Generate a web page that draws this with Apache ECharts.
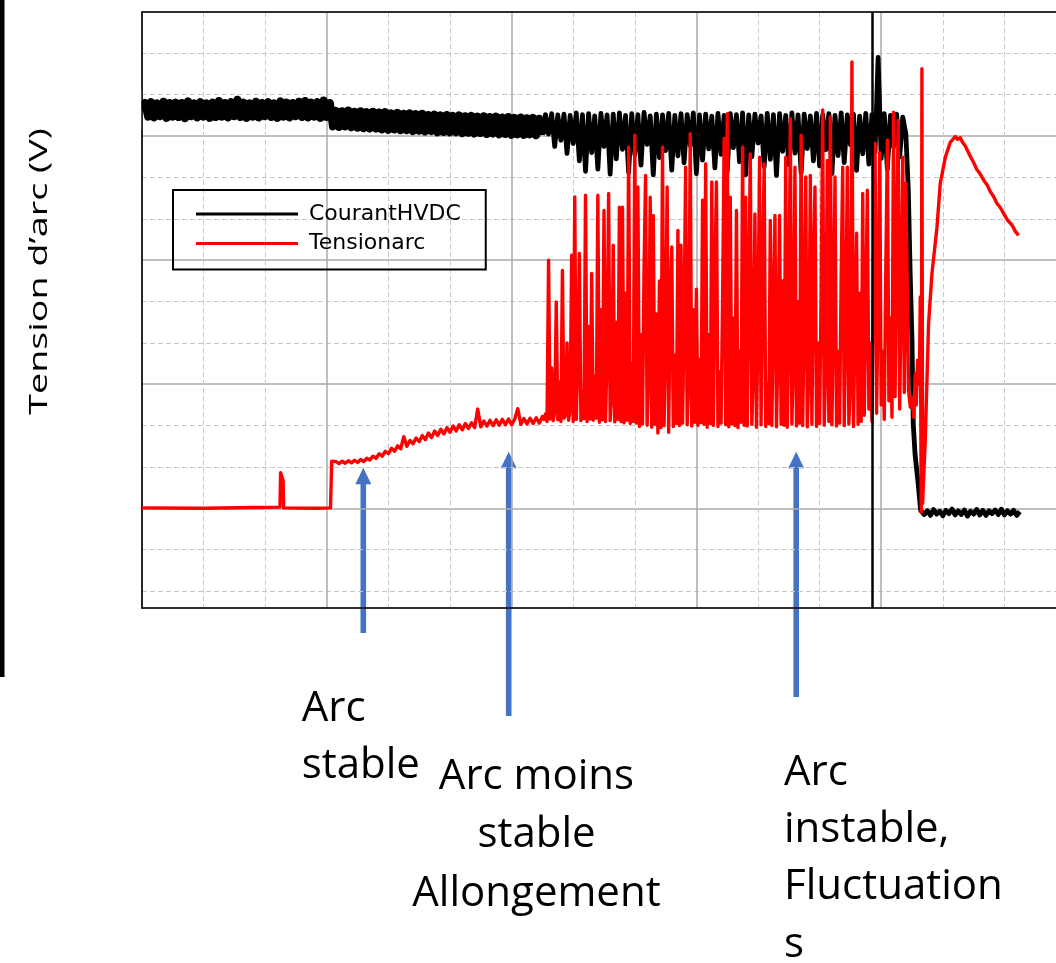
<!DOCTYPE html>
<html>
<head>
<meta charset="utf-8">
<script src="https://cdn.jsdelivr.net/npm/echarts@6/dist/echarts.min.js"></script>
<style>
html, body { margin: 0; padding: 0; background: #fff; }
#main { width: 1056px; height: 963px; }
</style>
</head>
<body>
<div id="main"></div>
<script>
// relevé oscilloscope : temps en unités de grille (10 par division mineure), tensions

// courant HVDC, échantillonné tous les 0.5 (bande de bruit épaisse avant l'instabilité)
var courantStable = [96.3, 98.0, 94.7, 98.2, 94.5, 97.9, 94.8, 98.3, 94.4, 98.0,
    94.7, 98.1, 94.6, 98.0, 94.3, 98.4, 94.8, 97.9, 94.5, 98.2,
    94.7, 97.9, 94.4, 98.1, 94.6, 98.5, 94.7, 98.0, 94.5, 98.2,
    94.8, 98.8, 94.6, 98.1, 94.4, 97.9, 94.7, 98.3, 94.5, 98.0,
    94.8, 98.2, 94.6, 97.9, 94.4, 98.4, 94.7, 98.1, 94.5, 98.0,
    94.8, 98.3, 94.6, 98.5, 94.5, 98.1, 94.7, 98.2, 94.4, 98.6,
    94.6, 98.0];
var courantAllonge = [92.3, 96.1, 92.2, 96.0, 92.3, 96.2, 92.1, 95.9, 92.0, 96.0,
    91.9, 95.8, 91.8, 95.9, 91.8, 95.7, 91.6, 95.8, 91.5, 95.5,
    91.6, 95.6, 91.4, 95.4, 91.4, 95.5, 91.2, 95.3, 91.3, 95.4,
    91.1, 95.1, 91.2, 95.2, 90.9, 95.0, 91.0, 95.1, 90.9, 94.9,
    90.9, 95.0, 90.7, 94.8, 90.8, 94.9, 90.6, 94.7, 90.7, 94.8,
    90.5, 94.6, 90.6, 94.7, 90.4, 94.5, 90.5, 94.6, 90.3, 94.4,
    90.4, 94.5, 90.3, 94.3, 90.4, 94.4, 90.2, 94.2, 90.3];
var courantInstable = [95.2, 90.5, 95.4, 87.5, 95.1, 89.0, 95.3, 85.8, 95.0, 88.2,
    95.6, 84.0, 95.2, 81.5, 95.4, 86.0, 94.9, 82.0, 95.5, 87.5,
    95.1, 80.8, 95.3, 84.5, 95.6, 86.8, 95.0, 81.2, 95.4, 85.5,
    95.2, 83.0, 95.7, 88.0, 94.9, 80.6, 95.3, 84.8, 95.1, 86.5,
    95.5, 81.8, 95.0, 85.2, 95.4, 83.5, 95.2, 87.8, 95.6, 80.9,
    95.1, 84.2, 95.3, 86.9, 94.8, 82.3, 95.5, 85.6, 95.0, 81.4,
    95.4, 87.2, 95.2, 83.8, 95.6, 80.7, 95.1, 85.0, 95.3, 88.3,
    94.9, 82.6, 95.5, 84.4, 95.2, 80.5, 95.4, 86.3, 95.0, 83.1,
    95.6, 85.9, 95.1, 81.1, 95.3, 87.0, 94.9, 84.0, 95.5, 82.8,
    95.2, 86.7, 95.4, 80.9, 95.0, 85.3, 95.6, 83.6, 95.1, 87.9,
    95.3, 81.7, 94.8, 85.7, 95.5, 83.2, 95.2, 86.2, 109.0, 84.6,
    95.4, 82.1, 95.0, 87.4, 95.3, 84.9, 94.6];
var courantChute = [[124.0, 90.5], [124.4, 77.0], [124.7, 57.0], [125.0, 40.5], [125.2, 20.5],
    [125.5, 13.0], [126.0, 6.0], [126.4, -0.5]];
var courantApres = [-0.4, -1.5, -0.6, -1.7, -0.3, -1.4, -0.7, -1.8, -0.5, -1.3, -0.2, -1.6, -0.6, -1.5,
    -0.4, -1.9, -0.7, -1.4, -0.3, -1.6, -0.5, -1.7, -0.6, -1.3, -0.4, -1.5, -0.2, -1.6, -0.6, -1.4,
    -0.5, -1.7, -0.8];

// tension d'arc
var tensionDebut = [[0, 0.1], [10, 0.0], [18, 0.2], [22.4, 0.3], [22.5, 8.6], [22.8, 8.2], [22.9, 6.8],
    [23.0, 0.1], [28, 0.0], [30.6, 0.1], [30.8, 11.4], [31.0, 11.0]];
// tous les 0.5 à partir de 31.5
var tensionAllongement = [11.3, 10.8, 11.4, 10.9, 11.5, 11.0, 11.6, 11.1, 11.8, 11.3,
    12.1, 11.7, 12.6, 12.1, 13.2, 12.6, 13.8, 13.2, 14.5, 13.8,
    15.1, 14.4, 17.3, 15.0, 16.4, 15.6, 17.0, 16.1, 17.6, 16.6,
    18.2, 17.1, 18.7, 17.6, 19.1, 18.0, 19.5, 18.4, 19.9, 18.7,
    20.2, 19.0, 20.5, 19.3, 20.7, 19.5, 24.0, 19.7, 21.1, 19.9,
    21.3, 20.0, 21.4, 20.1, 21.5, 20.2, 21.6, 20.2, 21.5, 24.1,
    20.3, 21.7, 20.4, 21.8, 20.5, 21.9, 20.6, 22.2];
// tous les 0.25 à partir de 65.25
var tensionInstable = [21.5, 22.8, 21.0, 60.0, 21.6, 34.0, 21.2, 23.5, 49.9, 21.4,
    30.5, 21.0, 57.5, 21.8, 22.5, 40.0, 21.3, 24.0, 61.2, 21.0,
    75.3, 21.5, 36.0, 61.6, 21.2, 28.0, 21.7, 75.7, 21.0, 44.0,
    21.6, 56.8, 21.3, 32.0, 21.8, 75.7, 20.8, 48.0, 21.4, 72.0,
    21.0, 38.0, 76.1, 21.2, 27.0, 63.6, 20.9, 45.0, 21.5, 72.8,
    21.0, 72.8, 20.7, 52.0, 21.3, 87.3, 20.5, 35.0, 21.0, 90.2,
    20.6, 77.7, 19.8, 42.0, 20.4, 58.0, 80.5, 20.1, 33.0, 75.2,
    19.6, 70.8, 20.3, 47.0, 18.2, 55.0, 19.5, 87.3, 20.0, 40.0,
    77.7, 18.4, 50.0, 63.2, 19.8, 37.0, 20.5, 67.2, 20.0, 63.6,
    20.6, 45.0, 82.5, 20.2, 31.0, 90.6, 19.9, 48.0, 20.8, 53.0,
    20.1, 36.0, 20.7, 74.5, 20.3, 83.3, 19.6, 42.0, 20.5, 78.9,
    20.0, 55.0, 78.9, 19.8, 33.0, 20.6, 50.0, 89.4, 20.2, 95.4,
    19.7, 75.2, 20.4, 46.0, 20.0, 72.0, 19.5, 38.0, 20.8, 87.3,
    20.1, 75.2, 19.9, 52.0, 85.7, 20.3, 34.0, 71.2, 19.6, 44.0,
    84.9, 20.2, 57.0, 83.3, 19.8, 30.0, 20.5, 69.6, 20.0, 48.0,
    70.8, 19.7, 39.0, 70.8, 20.3, 55.0, 20.1, 84.9, 19.6, 42.0,
    94.2, 20.4, 36.0, 82.5, 19.9, 50.0, 20.6, 90.2, 20.0, 46.0,
    80.1, 19.7, 33.0, 80.5, 20.3, 58.0, 77.7, 19.8, 40.0, 20.5,
    52.0, 96.3, 20.1, 35.0, 84.1, 21.0, 94.6, 20.2, 47.0, 80.1,
    19.9, 38.0, 20.6, 56.0, 82.5, 20.0, 44.0, 82.5, 20.4, 30.0,
    107.9, 19.8, 45.0, 66.5, 20.3, 52.0, 21.0, 76.1, 22.5, 48.0,
    76.9, 24.0, 40.0, 21.0, 60.0, 88.2, 23.0, 50.0, 86.0, 25.0,
    38.0, 21.5, 58.0, 89.0, 26.0, 46.0, 22.0, 95.8, 27.0, 62.0,
    93.8, 24.0, 52.0, 84.9, 28.0, 78.6];
var tensionFin = [[124.44, 28.5], [124.72, 24.5], [125.0, 26.9], [125.3, 22.0], [125.53, 32.6],
    [125.7, 25.0], [125.9, 35.8], [126.1, 30.0], [126.22, 32.6], [126.34, 51.1], [126.5, -0.9],
    [126.61, 106.3], [126.72, 1.2], [127.15, 16.4], [127.69, 44.7], [128.24, 56.8], [129.05, 67.9],
    [129.59, 78.6], [130.4, 84.8], [131.21, 88.5], [132.03, 89.9], [132.4, 89.2], [132.84, 89.6],
    [133.2, 88.5], [133.65, 87.6], [134.1, 86.2], [134.5, 85.0], [135.0, 83.6], [135.5, 82.0],
    [136.0, 81.0], [136.62, 79.4], [137.2, 78.2], [137.7, 76.6], [138.24, 75.4], [138.8, 73.7],
    [139.3, 72.8], [139.87, 71.3], [140.5, 69.7], [141.23, 68.5], [141.8, 66.9], [142.3, 66.0]];

var curseur = 118.5;
var noms = ['CourantHVDC', 'Tensionarc'];

function echantillons(debut, pas, valeurs) {
    return valeurs.map(function (v, i) { return [debut + i * pas, v]; });
}

// même courbe, tracée en deux morceaux pour rendre l'épaisseur du bruit
var courantBande = [].concat(
    echantillons(0, 0.5, courantStable),
    echantillons(31, 0.5, courantAllonge)
);
var courantSuite = [].concat(
    [courantBande[courantBande.length - 1]],
    echantillons(65.5, 0.5, courantInstable),
    courantChute,
    echantillons(126.5, 0.5, courantApres)
);
var dataTension = [].concat(
    tensionDebut,
    echantillons(31.5, 0.5, tensionAllongement),
    echantillons(65.25, 0.25, tensionInstable),
    tensionFin
);

var bleu = '#4472C4';
function fleche(x, haut, bas) {
    return {
        type: 'group',
        children: [
            { type: 'rect', shape: { x: x - 2.8, y: haut + 16, width: 5.6, height: bas - haut - 16 }, style: { fill: bleu } },
            { type: 'polygon', shape: { points: [[x - 8, haut + 16.5], [x + 8, haut + 16.5], [x, haut]] }, style: { fill: bleu } }
        ]
    };
}
var police = '42px "Open Sans"';

var chart = echarts.init(document.getElementById('main'));
chart.setOption({
    animation: false,
    grid: { left: 142, top: 12, width: 924, height: 596, outerBoundsMode: 'none', containLabel: false },
    legend: {
        data: noms,
        orient: 'vertical',
        left: 173,
        top: 190,
        padding: [13, 25, 15, 23],
        itemWidth: 102,
        itemHeight: 3,
        itemGap: 7.5,
        icon: 'rect',
        borderColor: '#000',
        borderWidth: 2,
        borderRadius: 0,
        textStyle: { fontFamily: 'DejaVu Sans', fontSize: 22, lineHeight: 22, color: '#000', padding: [0, 0, 0, 6] }
    },
    xAxis: [{
        type: 'value', min: 0, max: 150, interval: 30,
        axisLine: { show: true, onZero: false, lineStyle: { color: '#000', width: 1.6 } },
        axisTick: { show: false },
        axisLabel: { show: false },
        splitLine: { show: true, lineStyle: { color: '#aaaaaa', width: 1.5 } },
        minorTick: { show: false, splitNumber: 3 },
        minorSplitLine: { show: true, lineStyle: { color: '#c8c8c8', width: 1, type: [5, 3] } }
    }, {
        type: 'value', position: 'top', min: 0, max: 150,
        axisLine: { show: true, onZero: false, lineStyle: { color: '#000', width: 1.6 } },
        axisTick: { show: false },
        axisLabel: { show: false },
        splitLine: { show: false }
    }],
    yAxis: {
        type: 'value', min: -24.1, max: 120, splitNumber: 5,
        axisLine: { show: true, onZero: false, lineStyle: { color: '#000', width: 1.6 } },
        axisTick: { show: false },
        axisLabel: { show: false },
        splitLine: { show: true, lineStyle: { color: '#aaaaaa', width: 1.5 } },
        minorTick: { show: false, splitNumber: 3 },
        minorSplitLine: { show: true, lineStyle: { color: '#c8c8c8', width: 1, type: [5, 3] } }
    },
    series: [{
        name: noms[0],
        type: 'line',
        data: courantBande,
        showSymbol: false,
        color: '#000',
        lineStyle: { color: '#000', width: 8, join: 'round', cap: 'butt' }
    }, {
        name: noms[0],
        type: 'line',
        data: courantSuite,
        showSymbol: false,
        color: '#000',
        lineStyle: { color: '#000', width: 4.8, join: 'round', cap: 'butt' }
    }, {
        name: noms[1],
        type: 'line',
        data: dataTension,
        showSymbol: false,
        color: '#ff0000',
        lineStyle: { color: '#ff0000', width: 3.4, join: 'round', cap: 'butt' },
        markLine: {
            silent: true,
            symbol: 'none',
            label: { show: false },
            lineStyle: { color: '#000', width: 2.5, type: 'solid', cap: 'butt' },
            data: [{ xAxis: curseur }]
        }
    }],
    graphic: [
        // masque la petite avancée du trait épais à gauche de l'axe
        { type: 'rect', shape: { x: 128, y: 90, width: 13.2, height: 40 }, style: { fill: '#fff' }, z: 100 },
        { type: 'rect', shape: { x: 0, y: 0, width: 4.5, height: 677 }, style: { fill: '#000' } },
        {
            type: 'text', x: 40, y: 271.5, rotation: Math.PI / 2, scaleX: 1.45,
            style: { text: 'Tension d’arc (V)', font: '26px "Open Sans"', fill: '#000',
                align: 'center', verticalAlign: 'middle', textAlign: 'center', textVerticalAlign: 'middle' }
        },
        fleche(363.3, 467.7, 633),
        fleche(508.7, 451.7, 716),
        fleche(796.2, 451.7, 697),
        {
            type: 'text', x: 301.7, y: 681,
            style: { text: 'Arc\nstable', font: police, lineHeight: 57, fill: '#000',
                align: 'left', verticalAlign: 'top', textAlign: 'left', textVerticalAlign: 'top' }
        },
        {
            type: 'text', x: 536.5, y: 748,
            style: { text: 'Arc moins\nstable\nAllongement', font: police, lineHeight: 58.3, fill: '#000',
                align: 'center', verticalAlign: 'top', textAlign: 'center', textVerticalAlign: 'top' }
        },
        {
            type: 'text', x: 784, y: 744.5,
            style: { text: 'Arc\ninstable,\nFluctuation\ns', font: police, lineHeight: 57.2, fill: '#000',
                align: 'left', verticalAlign: 'top', textAlign: 'left', textVerticalAlign: 'top' }
        }
    ]
});
</script>
</body>
</html>
